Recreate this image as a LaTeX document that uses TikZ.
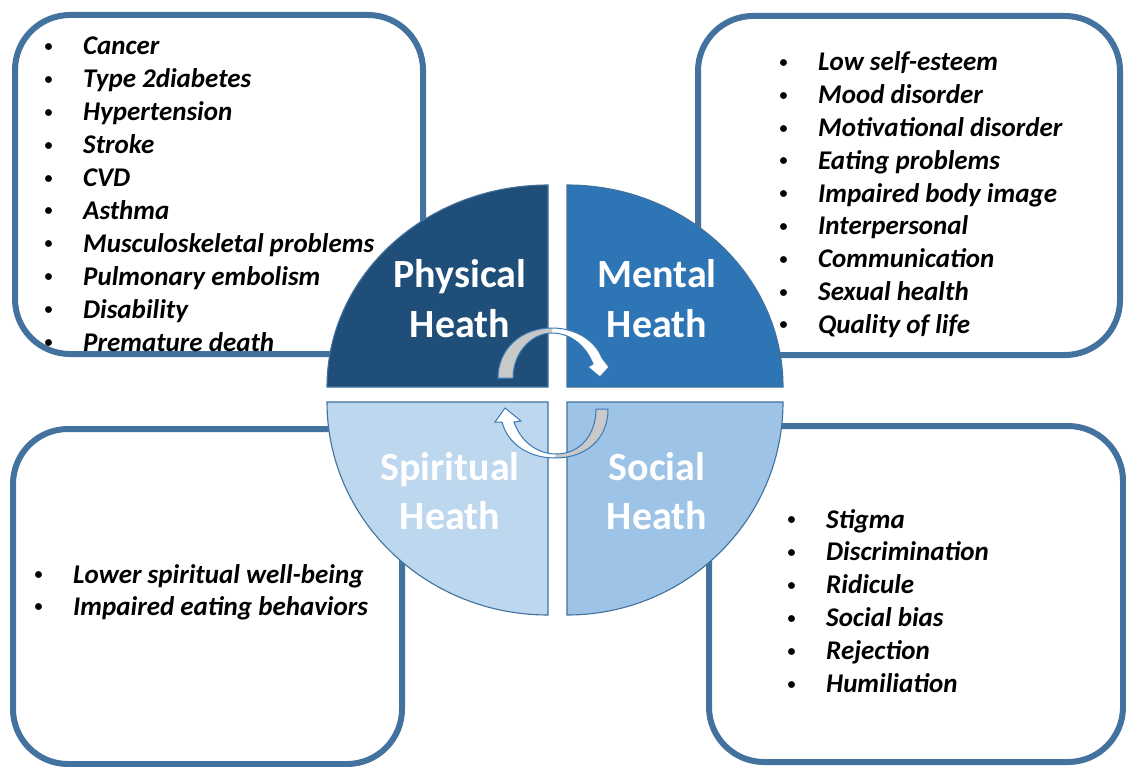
\documentclass[tikz,border=0pt]{standalone}
\usepackage{fontspec}
\setmainfont{Carlito}
\definecolor{boxblue}{HTML}{44729F}
\definecolor{physc}{HTML}{1F4E79}
\definecolor{mentc}{HTML}{2E75B6}
\definecolor{spirc}{HTML}{BDD7EE}
\definecolor{socc}{HTML}{9DC3E6}
\definecolor{qline}{HTML}{41719C}
\definecolor{arrline}{HTML}{3A78B5}
\definecolor{arrgray}{HTML}{C9C9C9}
\newcommand{\bul}{\llap{\makebox[0pt][c]{\raisebox{3.5pt}{\fontsize{16}{16}\selectfont\upshape\textbullet}}\hspace{34.5pt}}}
\begin{document}
\begin{tikzpicture}[x=1pt,y=-1pt,
  box/.style={draw=boxblue, line width=6pt, rounded corners=55pt, fill=white},
  item/.style={anchor=base west, inner sep=0pt, font=\fontsize{27}{33}\selectfont\bfseries\itshape},
  title/.style={anchor=base, inner sep=0pt, text=white, font=\fontsize{40}{50}\selectfont\bfseries},
  quad/.style={draw=qline, line width=1.1pt},
  arrout/.style={draw=arrline, line width=1pt},
]
\useasboundingbox (0,0) rectangle (1126,767);
\fill[white] (0,0) rectangle (1126,767);
% boxes
\draw[box] (15,15) rectangle (423,354);
\draw[box] (698,16) rectangle (1120,355);
\draw[box] (13,429) rectangle (402,764);
\draw[box] (709,426) rectangle (1123,762);
% lists
\foreach \t [count=\i] in {Cancer,Type 2diabetes,Hypertension,Stroke,CVD,Asthma,Musculoskeletal problems,Pulmonary embolism,Disability,Premature death}
  \node[item] (tl\i) at (83,{55+32.9*(\i-1)}) {\bul\t};
\foreach \t [count=\i] in {Low self-esteem,Mood disorder,Motivational disorder,Eating problems,Impaired body image,Interpersonal,Communication,Sexual health,Quality of life}
  \node[item] (tr\i) at (818,{71+32.8*(\i-1)}) {\bul\t};
\foreach \t [count=\i] in {Lower spiritual well-being,Impaired eating behaviors}
  \node[item] (bl\i) at (73,{583+32.4*(\i-1)}) {\bul\t};
\foreach \t [count=\i] in {Stigma,Discrimination,Ridicule,Social bias,Rejection,Humiliation}
  \node[item] (br\i) at (826,{528+32.9*(\i-1)}) {\bul\t};
% quadrants
\path[quad, fill=physc] (327,387) arc[start angle=180, end angle=270, x radius=221, y radius=202] -- (548,387) -- cycle;
\path[quad, fill=mentc] (567,185) arc[start angle=270, end angle=360, x radius=216, y radius=202] -- (567,387) -- cycle;
\path[quad, fill=spirc] (327,402) arc[start angle=180, end angle=90, x radius=221, y radius=213] -- (548,402) -- cycle;
\path[quad, fill=socc] (567,615) arc[start angle=90, end angle=0, x radius=216, y radius=213] -- (567,402) -- cycle;
% titles
\node[title] (ph1) at (460,287) {Physical};
\node[title] (ph2) at (460,337) {Heath};
\node[title] (me1) at (657,287) {Mental};
\node[title] (me2) at (657,337) {Heath};
\node[title] (sp1) at (450,480) {Spiritual};
\node[title] (sp2) at (450,529) {Heath};
\node[title] (so1) at (657,480) {Social};
\node[title] (so2) at (657,529) {Heath};
% top curved arrow
\fill[white] (498,378) .. controls (498,350) and (520,328) .. (552,328) .. controls (575,328) and (595,340) .. (602,358) -- (609,367) -- (600,377) -- (588,367) -- (593,364) .. controls (587,348) and (572,333) .. (552,333) .. controls (532,333) and (513,352) .. (513,378) -- cycle;
\fill[arrgray] (498,378) .. controls (498,350) and (520,328) .. (552,328) -- (552,333) .. controls (532,333) and (513,352) .. (513,378) -- cycle;
\draw[arrout] (498,378) .. controls (498,350) and (520,328) .. (552,328) .. controls (575,328) and (595,340) .. (602,358) -- (609,367) -- (600,377) -- (588,367) -- (593,364) .. controls (587,348) and (572,333) .. (552,333) .. controls (532,333) and (513,352) .. (513,378) -- cycle;
% bottom curved arrow
\fill[white] (608,409) .. controls (608,440) and (585,458) .. (555,458) .. controls (530,458) and (508,445) .. (502,422) -- (495,422) -- (505,408) -- (521,421) -- (514,422) .. controls (520,440) and (536,454) .. (556,454) .. controls (580,454) and (596,435) .. (596,409) -- cycle;
\fill[arrgray] (608,409) .. controls (608,440) and (585,458) .. (555,458) -- (556,454) .. controls (580,454) and (596,435) .. (596,409) -- cycle;
\draw[arrout] (608,409) .. controls (608,440) and (585,458) .. (555,458) .. controls (530,458) and (508,445) .. (502,422) -- (495,422) -- (505,408) -- (521,421) -- (514,422) .. controls (520,440) and (536,454) .. (556,454) .. controls (580,454) and (596,435) .. (596,409) -- cycle;
\end{tikzpicture}
\end{document}
